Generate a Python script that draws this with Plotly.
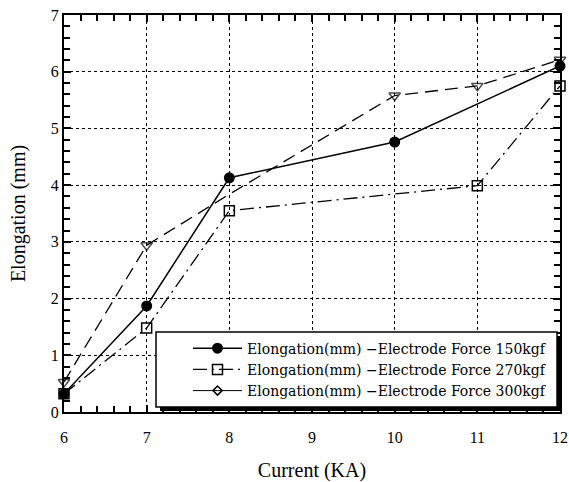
import plotly.graph_objects as go

current = [6, 7, 8, 10, 12]
elong_150 = [0.32, 1.87, 4.13, 4.76, 6.10]

current_270 = [6, 7, 8, 11, 12]
elong_270 = [0.32, 1.48, 3.55, 3.99, 5.75]

current_300 = [6, 7, 8, 10, 11, 12]
elong_300 = [0.53, 2.94, 3.84, 5.58, 5.75, 6.21]
markers_300 = ["triangle-down-open", "triangle-down-open", "circle", "triangle-down-open", "triangle-down-open", "triangle-down-open"]
marker_sizes_300 = [10, 10, 0, 10, 10, 10]

names = [
    "Elongation(mm) \u2212Electrode Force 150kgf",
    "Elongation(mm) \u2212Electrode Force 270kgf",
    "Elongation(mm) \u2212Electrode Force 300kgf",
]

FONT = "Liberation Serif"
LFONT = "DejaVu Serif"
fig = go.Figure()

fig.add_trace(go.Scatter(x=current, y=elong_150, mode="lines+markers", name=names[0],
                         cliponaxis=False,
                         line=dict(color="black", width=1.5),
                         marker=dict(symbol="circle", size=11, color="black")))
fig.add_trace(go.Scatter(x=current_270, y=elong_270, mode="lines+markers", name=names[1],
                         cliponaxis=False,
                         line=dict(color="black", width=1.3, dash="14px,5px,2px,5px"),
                         marker=dict(symbol="square-open", size=10, color="black", line=dict(width=1.5))))
fig.add_trace(go.Scatter(x=current_300, y=elong_300, mode="lines+markers", name=names[2],
                         showlegend=False, cliponaxis=False,
                         line=dict(color="black", width=1.3, dash="13px,7px"),
                         marker=dict(symbol=markers_300, size=marker_sizes_300, color="black", line=dict(width=1.5))))
# legend-only entry (diamond glyph as in the original legend)
fig.add_trace(go.Scatter(x=[None], y=[None], mode="lines+markers", name=names[2],
                         line=dict(color="black", width=1),
                         marker=dict(symbol="diamond-open", size=7, color="black", line=dict(width=1.5))))

axis_common = dict(
    showline=True, linecolor="black", linewidth=2, mirror="ticks",
    ticks="inside", ticklen=7, tickcolor="black", tickwidth=1.5,
    showgrid=True, gridcolor="black", griddash="dot", gridwidth=1,
    zeroline=False, automargin=False,
    tickfont=dict(family=FONT, size=16, color="black"),
    minor=dict(dtick=0.2, ticks="inside", ticklen=6,
               tickcolor="black", tickwidth=1.5, showgrid=False),
)

fig.update_xaxes(range=[6, 12], dtick=1, tick0=6, ticklabelstandoff=10,
                 title=dict(text="Current (KA)", font=dict(family=FONT, size=20, color="black"), standoff=22),
                 **axis_common)
fig.update_yaxes(range=[0, 7], dtick=1, tick0=0,
                 title=dict(text="Elongation (mm)", font=dict(family=FONT, size=20, color="black"), standoff=20),
                 **axis_common)

# legend shadow and box
fig.add_shape(type="rect", xref="paper", yref="paper",
              x0=0.1935, x1=1.002, y0=0.0025, y1=0.1914,
              fillcolor="black", line=dict(width=0), layer="above")
fig.add_shape(type="rect", xref="paper", yref="paper",
              x0=0.1855, x1=0.994, y0=0.0126, y1=0.2015,
              fillcolor="white", line=dict(color="black", width=1.5), layer="above")

fig.update_layout(
    width=569, height=482,
    margin=dict(l=64, r=9, t=15, b=70),
    plot_bgcolor="white", paper_bgcolor="white",
    font=dict(family=FONT, color="black"),
    legend=dict(x=0.25, y=0.2, xanchor="left", yanchor="top",
                bgcolor="rgba(0,0,0,0)", borderwidth=0,
                font=dict(family=LFONT, size=14, color="black"),
                itemwidth=49, tracegroupgap=0),
)

fig.write_html("out.html")
